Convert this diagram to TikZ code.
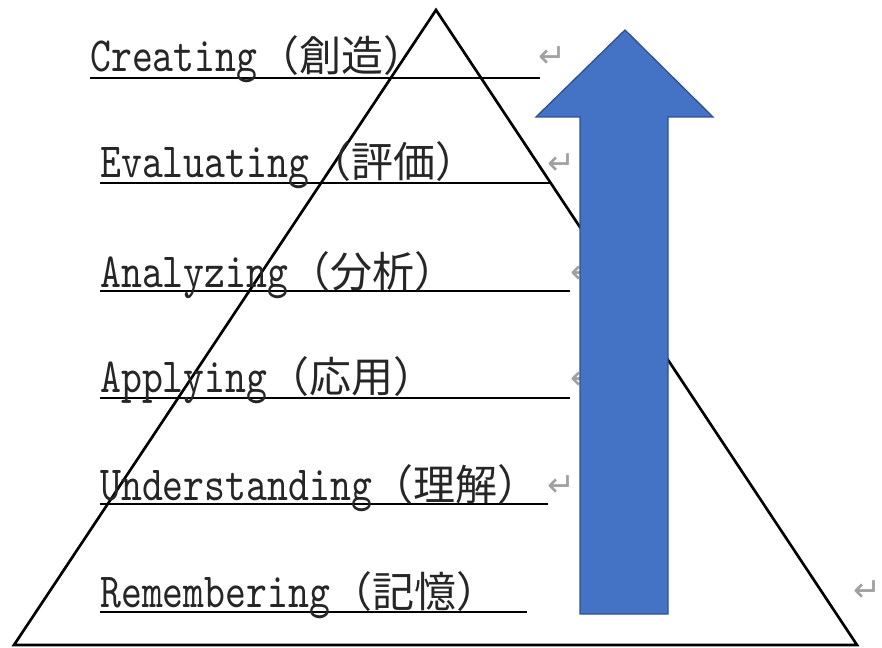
\documentclass[tikz,border=0pt]{standalone}
\usepackage{fontspec}
\newfontfamily\latfont[FakeStretch=0.81,Scale=1.17]{lmmono10-regular.otf}
\newfontfamily\jpfont{Noto Sans CJK JP}
\newfontfamily\markfont{DejaVu Sans}
\definecolor{arrowblue}{HTML}{4472C4}
\definecolor{arrowedge}{HTML}{2F528F}
\definecolor{markgray}{HTML}{A0A0A0}
\tikzset{
    level/.style={anchor=base west, inner sep=0pt, text=black!85, font=\fontsize{31.5}{31.5}\selectfont},
    retmark/.style={inner sep=0pt, text=markgray, font=\markfont\fontsize{25}{25}\selectfont},
    uline/.style={line width=2pt},
}
\begin{document}
\begin{tikzpicture}[x=0.75pt, y=0.75pt]

    \useasboundingbox (0, 0) rectangle (882, 647);

    %% Bloom's pyramid

    % Pyramid
    \draw[line width=2pt, line join=miter] (436, 637) -- (14, 2) -- (857, 2) -- cycle;

    % Underlines
    \draw[uline] (90, 569) -- (540, 569);
    \draw[uline] (100, 464) -- (550, 464);
    \draw[uline] (100, 356) -- (570, 356);
    \draw[uline] (100, 249) -- (570, 249);
    \draw[uline] (100, 143) -- (548, 143);
    \draw[uline] (100, 35) -- (527, 35);

    % Levels
    \node[level] (creating) at (90, 575) {{\latfont Creating}{\jpfont （創造）}};
    \node[level] (evaluating) at (100, 469) {{\latfont Evaluating}{\jpfont （評価）}};
    \node[level] (analyzing) at (100, 359) {{\latfont Analyzing}{\jpfont （分析）}};
    \node[level] (applying) at (100, 254) {{\latfont Applying}{\jpfont （応用）}};
    \node[level] (understanding) at (100, 147) {{\latfont Understanding}{\jpfont （理解）}};
    \node[level] (remembering) at (100, 40) {{\latfont Remembering}{\jpfont （記憶）}};

    % Return marks
    \node[retmark] (ret1) at (552, 590) {↵};
    \node[retmark] (ret2) at (561, 483) {↵};
    \node[retmark] (ret3) at (584, 374) {↵};
    \node[retmark] (ret4) at (584, 268) {↵};
    \node[retmark] (ret5) at (561, 161) {↵};
    \node[retmark] (ret6) at (867, 56) {↵};

    % Upward arrow
    \filldraw[fill=arrowblue, draw=arrowedge, line width=1pt]
        (625, 617) -- (713, 530) -- (668, 530) -- (668, 33)
        -- (580, 33) -- (580, 530) -- (536, 530) -- cycle;

\end{tikzpicture}
\end{document}
